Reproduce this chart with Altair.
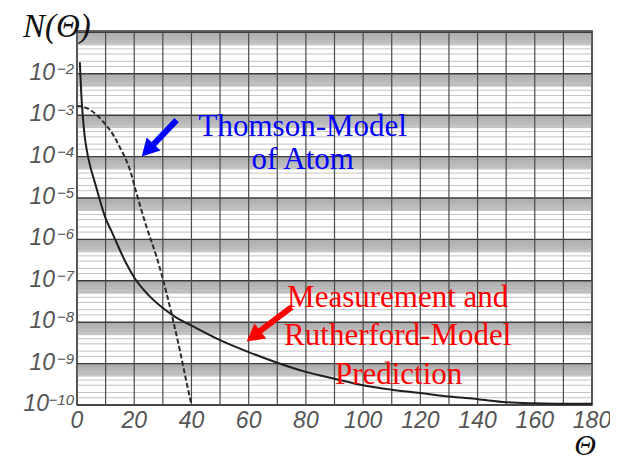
import altair as alt
import pandas as pd

# ---- data ----
rutherford_theta = [1.0, 1.5, 2.0, 2.6, 3.4, 4.5, 6.3, 8, 9.8, 12, 13.9, 17, 20, 25, 30, 35, 40,
                    50, 60, 70, 80, 90, 100, 110, 120, 130, 140, 150, 160, 170, 180]
rutherford_N = [1.9e-2, 3.2e-3, 1.0e-3, 3.5e-4, 1.45e-4, 6.3e-5, 2.3e-5, 8.9e-6, 3.5e-6, 1.6e-6,
                8.1e-7, 2.8e-7, 1.2e-7, 4.5e-8, 2.2e-8, 1.26e-8, 8.3e-9, 3.7e-9, 1.9e-9, 1.05e-9,
                6.3e-10, 4.3e-10, 3.0e-10, 2.35e-10, 1.95e-10, 1.6e-10, 1.38e-10, 1.17e-10,
                1.1e-10, 1.07e-10, 1.07e-10]

thomson_theta = [0, 2, 4.5, 7, 9.2, 12.7, 15, 17.4, 18.5, 20.8, 24.3, 27.8, 29.6, 31.3, 33.6,
                 36, 38.3, 40]
thomson_N = [1.66e-3, 1.6e-3, 1.35e-3, 1.0e-3, 6.9e-4, 3.3e-4, 1.66e-4, 7.6e-5, 4.8e-5, 1.3e-5,
             2.0e-6, 3.8e-7, 1.4e-7, 5.0e-8, 1.1e-8, 2.0e-9, 3.5e-10, 1.0e-10]

x_ticks = [0, 20, 40, 60, 80, 100, 120, 140, 160, 180]
x_tick_labels = ["0", "20", "40", "60", "80", "100", "120", "140", "160", "180"]
y_tick_values = [1e-2, 1e-3, 1e-4, 1e-5, 1e-6, 1e-7, 1e-8, 1e-9, 1e-10]
y_tick_exponents = ["−2", "−3", "−4", "−5", "−6", "−7", "−8", "−9", "−10"]

grid_theta = [0, 10, 20, 30, 40, 50, 60, 70, 80, 90, 100, 110, 120, 130, 140, 150, 160, 170, 180]
grid_decades = [1e-10, 1e-9, 1e-8, 1e-7, 1e-6, 1e-5, 1e-4, 1e-3, 1e-2, 1e-1]
grid_multipliers = [1.5, 2, 3, 4, 5, 5.25, 5.5, 5.75, 6, 6.25, 6.5, 6.75, 7, 7.25, 7.5, 7.75,
                    8, 8.25, 8.5, 8.75, 9, 9.25, 9.5, 9.75]

# annotations (data coordinates)
label_text = ["Thomson-Model", "of Atom", "Measurement and", "Rutherford-Model", "Prediction"]
label_theta = [78.9, 78.9, 112.1, 112.1, 112.4]
label_N = [5.2e-4, 8.3e-5, 3.8e-8, 4.7e-9, 5.3e-10]
label_color = ["blue", "blue", "red", "red", "red"]

arrow_name = ["blue", "red"]
arrow_start_theta = [34.8, 75.0]
arrow_start_N = [7.6e-4, 2.3e-8]
arrow_base_theta = [26.0, 63.1]
arrow_base_N = [1.74e-4, 5.5e-9]
arrow_tip_theta = [22.6, 59.3]
arrow_tip_N = [1.0e-4, 3.4e-9]
arrow_angle = [223.6, 232.1]

# ---- tables ----
df_r = pd.DataFrame({"theta": rutherford_theta, "N": rutherford_N})
df_t = pd.DataFrame({"theta": thomson_theta, "N": thomson_N})
df_vgrid = pd.DataFrame({"theta": grid_theta})
df_major = pd.DataFrame({"N": grid_decades})
df_minor = pd.DataFrame({"N": [d * m for d in grid_decades[:-1] for m in grid_multipliers]})
df_ylab = pd.DataFrame({"N": y_tick_values, "exp": y_tick_exponents})
df_xlab = pd.DataFrame({"theta": x_ticks, "lab": x_tick_labels})
df_lab = pd.DataFrame({"text": label_text, "theta": label_theta, "N": label_N, "c": label_color})
df_arr = pd.DataFrame({"name": arrow_name, "t0": arrow_start_theta, "n0": arrow_start_N,
                       "t1": arrow_base_theta, "n1": arrow_base_N,
                       "tt": arrow_tip_theta, "nt": arrow_tip_N, "ang": arrow_angle})

W, H = 515, 374
xs = alt.Scale(domain=[0, 180], nice=False, zero=False)
ys = alt.Scale(type="log", domain=[1e-10, 0.108], nice=False)
col_scale = alt.Scale(domain=["blue", "red"], range=["#0000ff", "#ff0000"])
LABEL_FONT = "Liberation Sans"
LABEL_COLOR = "#555555"

vgrid = alt.Chart(df_vgrid).mark_rule(color="#4a4a4a", strokeWidth=1.2).encode(
    x=alt.X("theta:Q", scale=xs, axis=None))
hminor = alt.Chart(df_minor).mark_rule(color="#9a9a9a", strokeWidth=0.6).encode(
    y=alt.Y("N:Q", scale=ys, axis=None))
hmajor = alt.Chart(df_major).mark_rule(color="#3c3c3c", strokeWidth=1.4).encode(
    y=alt.Y("N:Q", scale=ys, axis=None))

ruth = alt.Chart(df_r).mark_line(color="#1e1e1e", strokeWidth=2, interpolate="monotone").encode(
    x=alt.X("theta:Q", scale=xs, axis=None), y=alt.Y("N:Q", scale=ys, axis=None))
thom = alt.Chart(df_t).mark_line(color="#2a2a2a", strokeWidth=2, strokeDash=[5, 2.5],
                                 interpolate="monotone").encode(
    x=alt.X("theta:Q", scale=xs, axis=None), y=alt.Y("N:Q", scale=ys, axis=None))

xlab = alt.Chart(df_xlab).mark_text(
    align="center", baseline="middle", font=LABEL_FONT, fontStyle="italic", fontSize=23,
    color=LABEL_COLOR).encode(
    x=alt.X("theta:Q", scale=xs, axis=None), y=alt.value(H + 16), text="lab:N")

ten_a = alt.Chart(df_ylab).transform_filter("datum.N > 5e-10").mark_text(
    align="right", baseline="middle", font=LABEL_FONT, fontStyle="italic", fontSize=23,
    color=LABEL_COLOR, dy=-1).encode(
    x=alt.value(-22), y=alt.Y("N:Q", scale=ys, axis=None), text=alt.value("10"))
ten_b = alt.Chart(df_ylab).transform_filter("datum.N < 5e-10").mark_text(
    align="right", baseline="middle", font=LABEL_FONT, fontStyle="italic", fontSize=23,
    color=LABEL_COLOR, dy=-1).encode(
    x=alt.value(-28), y=alt.Y("N:Q", scale=ys, axis=None), text=alt.value("10"))
expo = alt.Chart(df_ylab).mark_text(
    align="right", baseline="middle", font=LABEL_FONT, fontStyle="italic", fontSize=15,
    color=LABEL_COLOR, dy=-5).encode(
    x=alt.value(-3), y=alt.Y("N:Q", scale=ys, axis=None), text="exp:N")

title_y = alt.Chart(pd.DataFrame({"t": ["N(Θ)"]})).mark_text(
    align="left", baseline="alphabetic", font="Liberation Serif", fontStyle="italic",
    fontSize=33, color="#111111").encode(x=alt.value(-54), y=alt.value(6), text="t:N")
title_x = alt.Chart(pd.DataFrame({"t": ["Θ"]})).mark_text(
    align="center", baseline="alphabetic", font="Liberation Serif", fontStyle="italic",
    fontSize=30, color="#111111").encode(x=alt.value(508), y=alt.value(424), text="t:N")

labels = alt.Chart(df_lab).mark_text(
    align="center", baseline="middle", font="Liberation Serif", fontSize=31).encode(
    x=alt.X("theta:Q", scale=xs, axis=None), y=alt.Y("N:Q", scale=ys, axis=None),
    text="text:N", color=alt.Color("c:N", scale=col_scale, legend=None))

shaft = alt.Chart(df_arr).mark_rule(strokeWidth=6, strokeCap="butt").encode(
    x=alt.X("t0:Q", scale=xs, axis=None), y=alt.Y("n0:Q", scale=ys, axis=None),
    x2="t1:Q", y2="n1:Q",
    color=alt.Color("name:N", scale=col_scale, legend=None))
head = alt.Chart(df_arr).mark_point(
    shape="M0,0L1.1,2L-1.1,2Z", filled=True, size=300, opacity=1, strokeWidth=0).encode(
    x=alt.X("tt:Q", scale=xs, axis=None), y=alt.Y("nt:Q", scale=ys, axis=None),
    angle=alt.Angle("ang:Q", scale=None),
    color=alt.Color("name:N", scale=col_scale, legend=None))

chart = alt.layer(
    hminor, hmajor, vgrid, thom, ruth, xlab, ten_a, ten_b, expo, title_y, title_x,
    labels, shaft, head
).properties(
    width=W, height=H,
    padding={"left": 69, "top": 23, "right": 18, "bottom": 62},
    autosize=alt.AutoSizeParams(type="none"),
    background="white",
).configure_view(stroke="#333333", strokeWidth=1.5)

chart.save("out.html", embed_options={"renderer": "svg", "actions": False})
